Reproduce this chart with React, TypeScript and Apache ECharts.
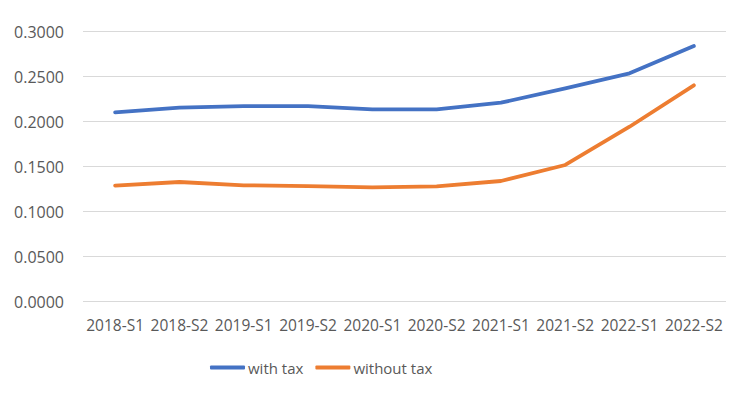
import React, { useEffect, useRef } from "react";
import * as echarts from "echarts";

const categories = ["2018-S1", "2018-S2", "2019-S1", "2019-S2", "2020-S1", "2020-S2", "2021-S1", "2021-S2", "2022-S1", "2022-S2"];
const withTax = [0.2104, 0.2156, 0.2174, 0.2174, 0.2137, 0.2137, 0.2211, 0.2370, 0.2537, 0.2841];
const withoutTax = [0.1289, 0.1330, 0.1293, 0.1285, 0.1271, 0.1282, 0.1341, 0.1519, 0.1944, 0.2404];

export default function App() {
  const ref = useRef<HTMLDivElement>(null);
  useEffect(() => {
    const chart = echarts.init(ref.current!, null, { renderer: "svg" });
    const font = "'Open Sans', 'Liberation Sans', sans-serif";
    chart.setOption({
      animation: false,
      textStyle: { fontFamily: font },
      grid: { left: 83, right: 24, top: 31.7, bottom: 96.3, containLabel: false },
      xAxis: {
        type: "category",
        data: categories,
        boundaryGap: true,
        axisLine: { show: false },
        axisTick: { show: false },
        axisLabel: { color: "#595959", fontSize: 15.5, margin: 15, fontFamily: font, interval: 0 },
      },
      yAxis: {
        type: "value",
        min: 0,
        max: 0.3,
        interval: 0.05,
        axisLine: { show: false },
        axisTick: { show: false },
        axisLabel: {
          color: "#595959",
          fontSize: 16,
          margin: 19,
          fontFamily: font,
          formatter: (v: number) => v.toFixed(4),
        },
        splitLine: { lineStyle: { color: "#d9d9d9", width: 1 } },
      },
      legend: {
        bottom: 23,
        left: 210,
        padding: 0,
        itemWidth: 35,
        itemHeight: 4,
        itemGap: 12,
        icon: "roundRect",
        textStyle: { color: "#595959", fontSize: 15, fontFamily: font, padding: [0, 0, 0, -2] },
        data: ["with tax", "without tax"],
      },
      series: [
        {
          name: "with tax",
          type: "line",
          data: withTax,
          symbol: "none",
          lineStyle: { color: "#4472C4", width: 3.8, cap: "round", join: "round" },
          itemStyle: { color: "#4472C4" },
        },
        {
          name: "without tax",
          type: "line",
          data: withoutTax,
          symbol: "none",
          lineStyle: { color: "#ED7D31", width: 3.8, cap: "round", join: "round" },
          itemStyle: { color: "#ED7D31" },
        },
      ],
    });
    return () => chart.dispose();
  }, []);
  return <div ref={ref} style={{ width: 750, height: 398, position: "absolute", left: 0, top: 0, background: "#fff" }} />;
}
